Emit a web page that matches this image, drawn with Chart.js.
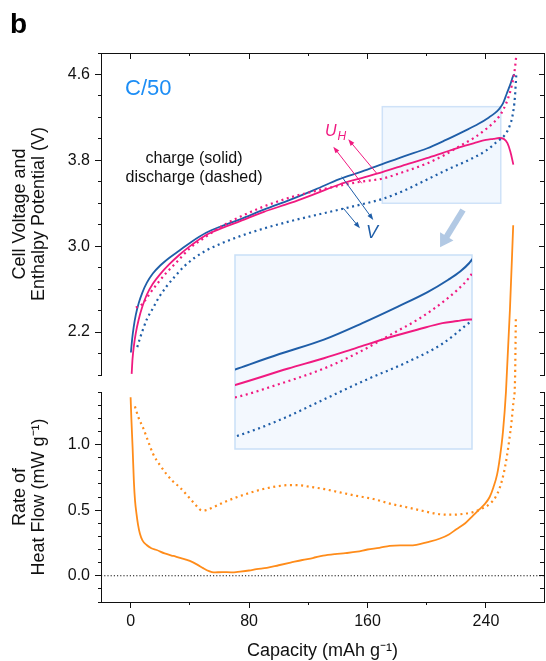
<!DOCTYPE html>
<html lang="en">
<head>
<meta charset="utf-8">
<title>Cell voltage, enthalpy potential and heat flow (C/50)</title>
<script src="https://cdn.jsdelivr.net/npm/chart.js@4.4.1/dist/chart.umd.min.js"></script>
<style>
  html, body { margin: 0; padding: 0; background: #fff; }
  #figura { position: relative; width: 546px; height: 661px; overflow: hidden;
            font-family: 'Liberation Sans', Arial, sans-serif; }
  #figura canvas { position: absolute; left: 0; top: 0; width: 546px; height: 661px; }
  .nota { position: absolute; white-space: nowrap; line-height: 1; }
</style>
</head>
<body>
<div id="figura">
  <canvas id="grafSuperior" width="546" height="661"></canvas>
  <canvas id="grafInferior" width="546" height="661"></canvas>
  <canvas id="grafDetalle" width="546" height="661"></canvas>
  <div class="nota" style="left:10px;top:10px;font-size:28px;font-weight:bold;color:#000">b</div>
  <div class="nota" style="left:125px;top:77px;font-size:22px;color:#1c8df5">C/50</div>
  <div class="nota" style="left:94px;top:149px;width:200px;text-align:center;font-size:16px;line-height:18.5px;color:#111">charge (solid)<br>discharge (dashed)</div>
  <div class="nota" style="left:325px;top:123px;font-size:16px;font-style:italic;color:#f01a80">U<span style="font-size:12px;position:relative;top:4px;left:1px">H</span></div>
  <div class="nota" style="left:366px;top:223px;font-size:18px;font-style:italic;color:#1f5ea8">V</div>
</div>

<script>
/* ============================================
   DATOS
   ============================================ */

// Carga: voltaje de celda V (azul, continuo)
const capCargaV = [0.2, 1, 2, 3.5, 5.5, 8, 11, 15, 20, 26, 33, 41, 51, 62, 74, 90, 108, 125, 141, 156,
  170, 185, 200, 213, 225, 235, 242, 246, 249, 251.5, 254, 256.5, 258.5, 259.5];
const cargaV = [2.01, 2.13, 2.24, 2.36, 2.47, 2.57, 2.66, 2.745, 2.82, 2.89, 2.96, 3.04, 3.125, 3.19, 3.25, 3.34, 3.434, 3.53, 3.625, 3.695,
  3.765, 3.84, 3.91, 3.99, 4.07, 4.14, 4.2, 4.24, 4.28, 4.33, 4.42, 4.51, 4.59, 4.6];

// Carga: potencial de entalpía U_H (rosa, continuo)
const capCargaUH = [0.7, 1.3, 2.2, 3.5, 5.5, 8, 11, 15, 20, 26, 33, 41, 51, 62, 74, 90, 108, 125, 141, 156,
  170, 188, 200, 211, 222, 232, 240, 245, 249, 252, 254.5, 256.5, 258.5];
const cargaUH = [1.81, 1.95, 2.07, 2.19, 2.32, 2.44, 2.55, 2.65, 2.74, 2.83, 2.92, 3.01, 3.105, 3.17, 3.233, 3.32, 3.403, 3.49, 3.575, 3.635,
  3.69, 3.77, 3.82, 3.87, 3.92, 3.96, 3.99, 4.0, 4.008, 4.0, 3.96, 3.88, 3.76];

// Descarga: potencial de entalpía U_H (rosa, punteado)
const capDescargaUH = [3.5, 6, 9, 13, 18, 24, 31, 40, 51, 62, 74, 90, 108, 125, 140, 155, 170, 185, 200, 212,
  222, 232, 240, 245, 249, 252, 255, 257.5, 259.5, 260.5];
const descargaUH = [2.43, 2.44, 2.48, 2.56, 2.65, 2.75, 2.85, 2.98, 3.09, 3.19, 3.275, 3.37, 3.455, 3.515, 3.56, 3.6, 3.63, 3.695, 3.77, 3.85,
  3.93, 4.01, 4.09, 4.15, 4.21, 4.28, 4.38, 4.5, 4.65, 4.78];

// Descarga: voltaje de celda V (azul, punteado)
const capDescargaV = [4.5, 6.5, 8.5, 11, 15, 19, 24, 30, 36, 43, 51, 62, 74, 90, 108, 125, 141, 156, 170, 185,
  200, 215, 228, 240, 248, 253, 256, 258, 259.5, 260.5];
const descargaV = [2.06, 2.15, 2.23, 2.32, 2.42, 2.52, 2.62, 2.72, 2.81, 2.89, 2.96, 3.03, 3.094, 3.165, 3.233, 3.29, 3.341, 3.39, 3.44, 3.52,
  3.62, 3.72, 3.8, 3.89, 3.98, 4.04, 4.12, 4.22, 4.38, 4.6];

// Flujo de calor en carga (naranja, continuo)
const capCalorCarga = [0, 0.5, 1.35, 2.2, 3, 4, 5, 6.3, 8, 10.8, 14, 17.6, 23, 28.8, 34, 40, 45, 49, 53, 56,
  62, 68, 74, 80, 85, 92, 100, 108, 116, 123, 130, 138, 145, 153, 160, 168, 175, 182, 188, 193,
  200, 209, 215, 220, 226, 231.4, 235.5, 239.3, 242.5, 245, 247.5, 249.4, 251.5, 253.5, 256.2, 258.4];
const calorCarga = [1.36, 1.2, 0.975, 0.72, 0.57, 0.47, 0.39, 0.32, 0.27, 0.234, 0.21, 0.196, 0.17, 0.151, 0.135, 0.113, 0.085, 0.058, 0.035, 0.025,
  0.028, 0.026, 0.032, 0.04, 0.05, 0.06, 0.08, 0.1, 0.12, 0.135, 0.153, 0.165, 0.172, 0.183, 0.2, 0.213, 0.228, 0.232, 0.232, 0.236,
  0.255, 0.284, 0.315, 0.354, 0.4, 0.46, 0.505, 0.548, 0.6, 0.673, 0.77, 0.9, 1.1, 1.4, 2.03, 2.67];

// Flujo de calor en descarga (naranja, punteado)
const capCalorDescarga = [2.9, 5.5, 8.5, 12, 15.3, 20, 24.3, 28.5, 33.3, 38, 42.3, 45.5, 48, 51, 55.8, 63, 71.6, 80, 89.6, 98,
  107.6, 114, 121, 131, 141.4, 152, 163.9, 175, 186.4, 197, 206.7, 212, 217.9, 225, 231.4, 237, 242.7, 246.5, 249.4, 252,
  254, 255.8, 257.3, 258.6, 259.6, 260.2];
const calorDescarga = [1.29, 1.2, 1.125, 1.02, 0.925, 0.84, 0.774, 0.72, 0.673, 0.615, 0.56, 0.52, 0.497, 0.5, 0.522, 0.56, 0.598, 0.63, 0.661, 0.68,
  0.691, 0.69, 0.678, 0.66, 0.635, 0.61, 0.585, 0.55, 0.522, 0.495, 0.472, 0.466, 0.465, 0.472, 0.485, 0.51, 0.548, 0.6, 0.673, 0.78,
  0.9, 1.04, 1.176, 1.33, 1.477, 1.98];

// Línea de referencia en 0 mW/g
const capCero = [-20, 279.2];
const valorCero = [0, 0];

// Marcas de los ejes
const ticksCapacidad = [0, 80, 160, 240];
const ticksCapacidadMenor = [40, 120, 200];
const ticksVoltaje = [2.2, 3.0, 3.8, 4.6];
const ticksVoltajeMenor = [1.8, 2.0, 2.4, 2.6, 2.8, 3.2, 3.4, 3.6, 4.0, 4.2, 4.4, 4.8];
const ticksCalor = [0.0, 0.5, 1.0];
const ticksCalorMenor = [-0.2, -0.1, 0.1, 0.2, 0.3, 0.4, 0.6, 0.7, 0.8, 0.9, 1.1, 1.2, 1.3, 1.4];

// Recuadro ampliado [capMin, capMax, vMin, vMax]
const recuadro = [170, 250, 3.4, 4.3];

// Flechas de anotación [cap0, v0, cap1, v1]
const flechasUH = [[166.2, 3.679, 147.0, 3.996], [156.1, 3.586, 136.9, 3.927]];
const flechasV = [[142.6, 3.648, 163.9, 3.244], [143.7, 3.353, 154.9, 3.167]];
const flechaDetalle = [224.5, 3.337, 209.0, 2.99];

/* ============================================
   ESTILO
   ============================================ */

const AZUL = '#1f5ea8';
const ROSA = '#f01a80';
const NARANJA = '#ff8c1a';
const FUENTE = "'Liberation Sans', Arial, sans-serif";

Chart.defaults.animation = false;
Chart.defaults.font.family = FUENTE;
Chart.defaults.color = '#111';

function serie(caps, valores, color, punteada, ancho, extra) {
  return Object.assign({
    data: caps.map((c, i) => ({ x: c, y: valores[i] })),
    borderColor: color,
    borderWidth: ancho,
    borderDash: punteada ? [2, 3.6] : [],
    borderCapStyle: 'butt',
    pointRadius: 0,
    cubicInterpolationMode: 'monotone',
    fill: false,
    xAxisID: 'x',
    yAxisID: 'y',
  }, extra || {});
}

// Eje solo con marcas (sin etiquetas), ancho/alto cero
function ejeMarcas(posicion, min, max, valores, largo) {
  const horizontal = posicion === 'top' || posicion === 'bottom';
  return {
    type: 'linear',
    axis: horizontal ? 'x' : 'y',
    position: posicion,
    min, max,
    weight: 0,
    afterBuildTicks: (s) => { s.ticks = valores.map(v => ({ value: v })); },
    ticks: { display: false },
    grid: { drawOnChartArea: false, tickLength: largo, color: '#111', tickWidth: 1 },
    border: { display: false },
    afterFit: (s) => { if (horizontal) s.height = 0; else s.width = 0; },
  };
}

// Eje con borde (espina) y marcas mayores
function ejePrincipal(posicion, min, max, valores, largo, etiquetas, titulo, ajuste) {
  const horizontal = posicion === 'top' || posicion === 'bottom';
  return {
    type: 'linear',
    axis: horizontal ? 'x' : 'y',
    position: posicion,
    min, max,
    weight: 1,
    afterBuildTicks: (s) => { s.ticks = valores.map(v => ({ value: v })); },
    ticks: {
      display: etiquetas,
      padding: horizontal ? 4 : 5,
      font: { size: 16 },
      color: '#111',
      callback: (v) => horizontal ? String(v) : Number(v).toFixed(1),
    },
    grid: { drawOnChartArea: false, tickLength: largo, color: '#111', tickWidth: 1 },
    border: { display: true, color: '#111', width: 1 },
    title: titulo ? {
      display: true,
      text: titulo,
      font: { size: 18, lineHeight: 1.05 },
      color: '#111',
      padding: horizontal ? { top: 0, bottom: 0.5 } : { top: 10.5, bottom: 0 },
    } : { display: false },
    afterFit: (s) => { if (horizontal) s.height = ajuste; else s.width = ajuste; },
  };
}

function dibujarFlecha(ctx, x1, y1, x2, y2, color, ancho, punta, apertura) {
  const ang = Math.atan2(y2 - y1, x2 - x1);
  ctx.save();
  ctx.strokeStyle = color;
  ctx.fillStyle = color;
  ctx.lineWidth = ancho;
  ctx.beginPath();
  ctx.moveTo(x1, y1);
  ctx.lineTo(x2 - punta * 0.8 * Math.cos(ang), y2 - punta * 0.8 * Math.sin(ang));
  ctx.stroke();
  ctx.beginPath();
  ctx.moveTo(x2, y2);
  ctx.lineTo(x2 - punta * Math.cos(ang - apertura), y2 - punta * Math.sin(ang - apertura));
  ctx.lineTo(x2 - punta * Math.cos(ang + apertura), y2 - punta * Math.sin(ang + apertura));
  ctx.closePath();
  ctx.fill();
  ctx.restore();
}

/* ============================================
   PANEL SUPERIOR: voltaje y potencial de entalpía
   ============================================ */

const anotaciones = {
  id: 'anotaciones',
  beforeDatasetsDraw(chart) {
    const { ctx, scales: { x, y } } = chart;
    const x0 = x.getPixelForValue(recuadro[0]);
    const x1 = x.getPixelForValue(recuadro[1]);
    const y0 = y.getPixelForValue(recuadro[3]);
    const y1 = y.getPixelForValue(recuadro[2]);
    ctx.save();
    ctx.fillStyle = 'rgba(214, 232, 252, 0.35)';
    ctx.fillRect(x0, y0, x1 - x0, y1 - y0);
    ctx.strokeStyle = '#cfe2f8';
    ctx.lineWidth = 1.5;
    ctx.strokeRect(x0, y0, x1 - x0, y1 - y0);
    ctx.restore();
  },
  afterDatasetsDraw(chart) {
    const { ctx, scales: { x, y } } = chart;
    const px = (f) => [x.getPixelForValue(f[0]), y.getPixelForValue(f[1]), x.getPixelForValue(f[2]), y.getPixelForValue(f[3])];
    flechasUH.forEach(f => { const p = px(f); dibujarFlecha(ctx, p[0], p[1], p[2], p[3], ROSA, 1, 7, 0.35); });
    flechasV.forEach(f => { const p = px(f); dibujarFlecha(ctx, p[0], p[1], p[2], p[3], AZUL, 1, 7, 0.35); });
    const g = px(flechaDetalle);
    dibujarFlecha(ctx, g[0], g[1], g[2], g[3], '#b2c9e4', 6, 15, 0.55);
  },
};

new Chart(document.getElementById('grafSuperior'), {
  type: 'line',
  data: {
    datasets: [
      serie(capDescargaV, descargaV, AZUL, true, 2.2),
      serie(capDescargaUH, descargaUH, ROSA, true, 2.2),
      serie(capCargaUH, cargaUH, ROSA, false, 1.8),
      serie(capCargaV, cargaV, AZUL, false, 1.8),
    ],
  },
  options: {
    responsive: false,
    layout: { padding: { top: 53, left: 0, right: 2, bottom: 286 } },
    plugins: { legend: { display: false }, tooltip: { enabled: false } },
    scales: {
      x: ejePrincipal('top', -20, 279.2, ticksCapacidad, -6, false, null, 0),
      xMenor: ejeMarcas('top', -20, 279.2, ticksCapacidadMenor, -3),
      y: ejePrincipal('left', 1.8, 4.8, ticksVoltaje, 6, true, ['Cell Voltage and', 'Enthalpy Potential (V)'], 101),
      yMenor: ejeMarcas('left', 1.8, 4.8, ticksVoltajeMenor, 3),
      yDer: ejePrincipal('right', 1.8, 4.8, ticksVoltaje, -5, false, null, 0),
      yDerMenor: ejeMarcas('right', 1.8, 4.8, ticksVoltajeMenor, -4),
    },
  },
  plugins: [anotaciones],
});

/* ============================================
   PANEL INFERIOR: flujo de calor
   ============================================ */

new Chart(document.getElementById('grafInferior'), {
  type: 'line',
  data: {
    datasets: [
      serie(capCero, valorCero, '#111', true, 1, { borderDash: [1.2, 2], cubicInterpolationMode: 'default' }),
      serie(capCalorDescarga, calorDescarga, NARANJA, true, 2.2, { clip: false }),
      serie(capCalorCarga, calorCarga, NARANJA, false, 1.8, { clip: false }),
    ],
  },
  options: {
    responsive: false,
    layout: { padding: { top: 392, left: 0, right: 2, bottom: 0 } },
    plugins: { legend: { display: false }, tooltip: { enabled: false } },
    scales: {
      x: ejePrincipal('bottom', -20, 279.2, ticksCapacidad, 6, true, 'Capacity (mAh g\u207B\u00B9)', 59),
      xMenor: ejeMarcas('bottom', -20, 279.2, ticksCapacidadMenor, 3),
      y: ejePrincipal('left', -0.2, 1.4, ticksCalor, 6, true, ['Rate of', 'Heat Flow (mW g\u207B\u00B9)'], 101),
      yMenor: ejeMarcas('left', -0.2, 1.4, ticksCalorMenor, 3),
      yDer: ejePrincipal('right', -0.2, 1.4, ticksCalor, -5, false, null, 0),
      yDerMenor: ejeMarcas('right', -0.2, 1.4, ticksCalorMenor, -4),
    },
  },
});

/* ============================================
   RECUADRO AMPLIADO (detalle 170–250 mAh/g)
   ============================================ */

const fondoDetalle = {
  id: 'fondoDetalle',
  beforeDraw(chart) {
    const { ctx, chartArea: a } = chart;
    ctx.save();
    ctx.fillStyle = '#f3f8fe';
    ctx.fillRect(a.left, a.top, a.width, a.height);
    ctx.strokeStyle = '#c9dff7';
    ctx.lineWidth = 1.5;
    ctx.strokeRect(a.left, a.top, a.width, a.height);
    ctx.restore();
  },
};

new Chart(document.getElementById('grafDetalle'), {
  type: 'line',
  data: {
    datasets: [
      serie(capDescargaV, descargaV, AZUL, true, 2.2),
      serie(capDescargaUH, descargaUH, ROSA, true, 2.2),
      serie(capCargaUH, cargaUH, ROSA, false, 2),
      serie(capCargaV, cargaV, AZUL, false, 2),
    ],
  },
  options: {
    responsive: false,
    layout: { padding: { top: 255, left: 235, right: 74, bottom: 212 } },
    plugins: { legend: { display: false }, tooltip: { enabled: false } },
    scales: {
      x: { type: 'linear', display: false, min: recuadro[0], max: recuadro[1] },
      y: { type: 'linear', display: false, min: 3.38, max: 4.32 },
    },
  },
  plugins: [fondoDetalle],
});
</script>
</body>
</html>
